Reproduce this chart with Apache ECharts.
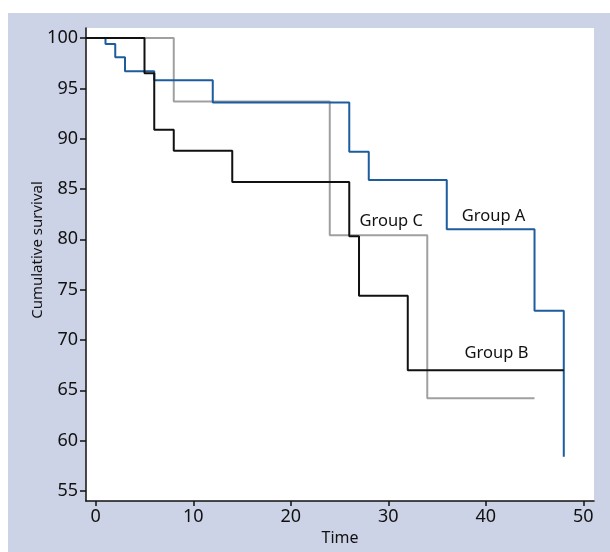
<!DOCTYPE html>
<html>
<head>
<meta charset="utf-8">
<script src="https://cdn.jsdelivr.net/npm/echarts@6/dist/echarts.min.js"></script>
<style>
html,body{margin:0;padding:0;background:#fff;}
#chart{width:610px;height:552px;}
</style>
</head>
<body>
<div id="chart"></div>
<script>
// Group A (blue): [time, cumulative survival after event]
var groupATimes  = [-1, 1, 2, 3, 6, 12, 26, 28, 36, 45, 48];
var groupAValues = [100, 99.4, 98.1, 96.7, 95.8, 93.6, 88.7, 85.9, 81.0, 72.9, 58.4];
// Group B (black)
var groupBTimes  = [-1, 5, 6, 8, 14, 26, 27, 32, 48];
var groupBValues = [100, 96.5, 90.9, 88.8, 85.7, 80.3, 74.4, 67.0, 67.0];
// Group C (grey)
var groupCTimes  = [-1, 8, 24, 34, 45];
var groupCValues = [100, 93.7, 80.4, 64.2, 64.2];

var xTicks = [0, 10, 20, 30, 40, 50];
var yTicks = [55, 60, 65, 70, 75, 80, 85, 90, 95, 100];

var groupNames = ['Group A', 'Group B', 'Group C'];
// label anchor points in data units [time, survival]
var labelTimes  = [40.8, 41.1, 30.3];
var labelValues = [82.3, 68.7, 81.8];

function pairs(t, v) { return t.map(function (x, i) { return [x, v[i]]; }); }

var FONT = 'Noto Sans';
var colors = ['#1d5c9e', '#111111', '#a0a0a0'];
var zOrder = [3, 4, 2];
var seriesData = [pairs(groupATimes, groupAValues), pairs(groupBTimes, groupBValues), pairs(groupCTimes, groupCValues)];

var chart = echarts.init(document.getElementById('chart'), null, {renderer: 'canvas'});
var series = seriesData.map(function (d, i) {
  return {
    type: 'line', name: groupNames[i], data: d, step: 'end', z: zOrder[i],
    showSymbol: false, symbol: 'none', animation: false,
    lineStyle: {color: colors[i], width: 2},
    markPoint: {
      symbol: 'circle', symbolSize: 0, animation: false,
      data: [{coord: [labelTimes[i], labelValues[i]], value: groupNames[i]}],
      label: {show: true, position: 'inside', formatter: groupNames[i], color: '#111', fontFamily: FONT, fontSize: 16.5}
    }
  };
});

chart.setOption({
  animation: false,
  backgroundColor: '#ffffff',
  graphic: [
    {type: 'rect', shape: {x: 8, y: 13, width: 602, height: 539}, style: {fill: '#cdd3e6'}, z: -10, silent: true},
    {type: 'text', x: 38, y: 250, rotation: Math.PI / 2, silent: true,
     style: {text: 'Cumulative survival', fill: '#111', font: '15px "Noto Sans"', align: 'center', verticalAlign: 'middle'}}
  ],
  grid: {left: 86, right: 16, top: 28, bottom: 51, show: true, backgroundColor: '#ffffff', borderWidth: 0},
  xAxis: {
    type: 'value', min: -1, max: 51.1,
    name: 'Time', nameLocation: 'middle', nameGap: 29,
    nameTextStyle: {color: '#111', fontFamily: FONT, fontSize: 16},
    axisLine: {show: true, onZero: false, lineStyle: {color: '#111', width: 1.5}},
    axisTick: {show: true, length: 5, customValues: xTicks, lineStyle: {color: '#111', width: 1.5}},
    axisLabel: {customValues: xTicks, color: '#111', fontFamily: FONT, fontSize: 18, margin: 7},
    splitLine: {show: false}
  },
  yAxis: {
    type: 'value', min: 54, max: 101,
    axisLine: {show: true, onZero: false, lineStyle: {color: '#111', width: 1.5}},
    axisTick: {show: true, length: 6, customValues: yTicks, lineStyle: {color: '#111', width: 1.5}},
    axisLabel: {customValues: yTicks, color: '#111', fontFamily: FONT, fontSize: 18, margin: 8},
    splitLine: {show: false}
  },
  series: series
});
</script>
</body>
</html>
